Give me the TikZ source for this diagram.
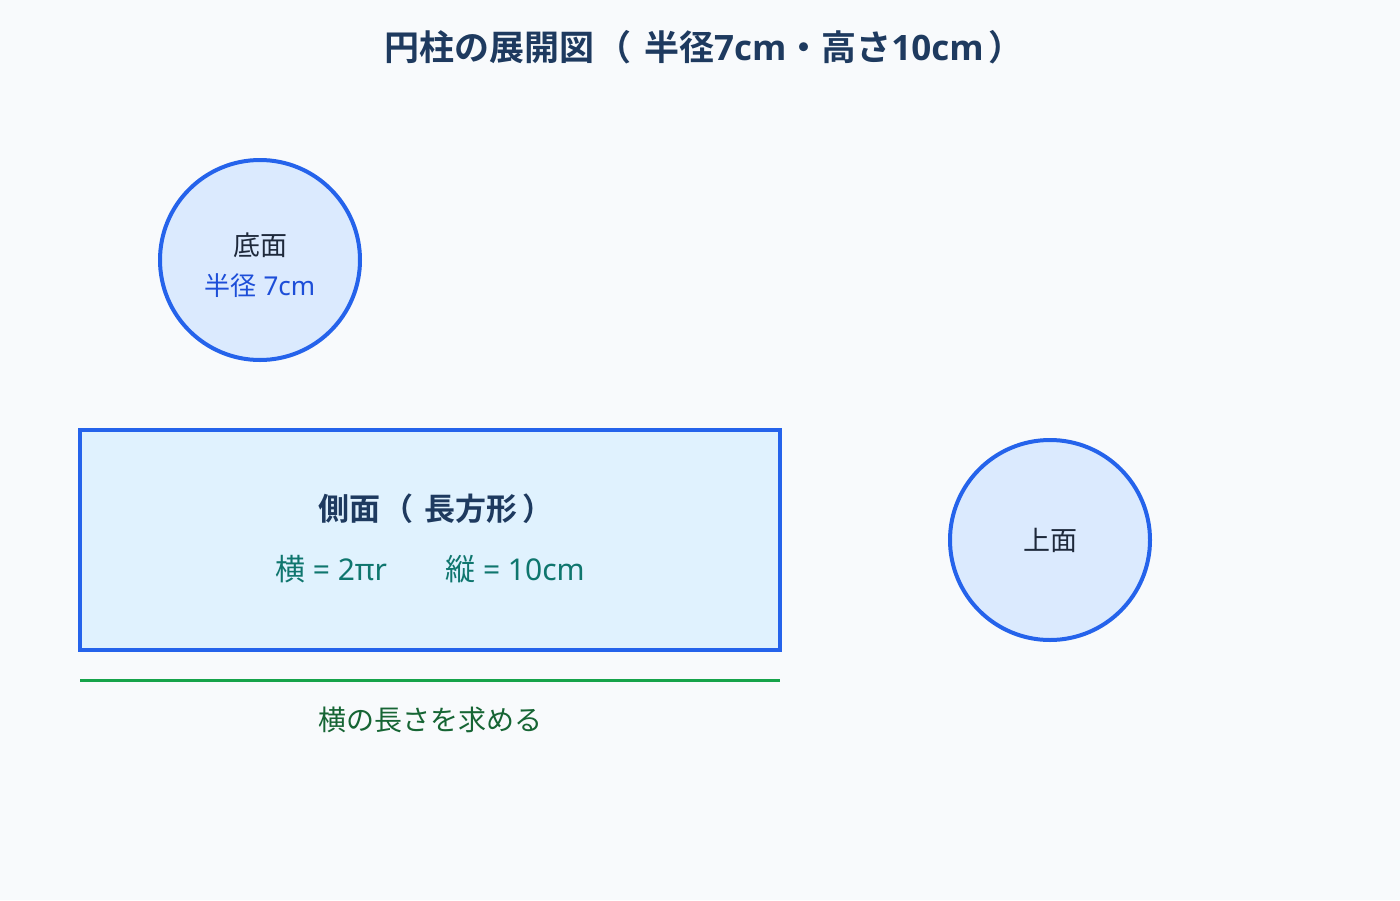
\documentclass[tikz,border=0pt]{standalone}
\usepackage{fontspec}
\setmainfont{Noto Sans CJK JP}[BoldFont={* Bold}]
\newfontfamily\lat{Noto Sans}
\newfontfamily\latb{Open Sans}[BoldFont={* Bold}]
\definecolor{bgc}{HTML}{F8FAFC}
\definecolor{blueline}{HTML}{2563EB}
\definecolor{circfill}{HTML}{DBEAFE}
\definecolor{rectfill}{HTML}{E0F2FE}
\definecolor{titlec}{HTML}{1E3A5F}
\definecolor{darktext}{HTML}{1E293B}
\definecolor{bluetext}{HTML}{1D4ED8}
\definecolor{tealtext}{HTML}{0F766E}
\definecolor{greenline}{HTML}{16A34A}
\definecolor{greentext}{HTML}{166534}
\newcommand\lp{\hspace{0.08em}（\hspace{0.35em}}
\newcommand\rp{\hspace{0.15em}）}
\begin{document}
\begin{tikzpicture}[x=1pt,y=-1pt,
  face/.style={circle,draw=blueline,line width=4pt,fill=circfill,minimum size=200pt,inner sep=0pt},
  side/.style={draw=blueline,line width=4pt,fill=rectfill},
  lbl/.style={inner sep=0pt,anchor=base}]
\useasboundingbox[fill=bgc] (0,0) rectangle (1400,900);
\node[lbl,text=titlec,font=\fontsize{35}{40}\selectfont\bfseries] (title) at (704,60) {円柱の展開図\lp 半径{\latb\bfseries 7cm}・高さ{\latb\bfseries 10cm}\rp};
\node[face] (bottom) at (260,260) {};
\node[lbl,text=darktext,font=\fontsize{27}{32}\selectfont] (bottomlbl) at (260,255) {底面};
\node[lbl,text=bluetext,font=\fontsize{26}{32}\selectfont] (bottomr) at (260,295) {半径{\lat\ 7cm}};
\draw[side] (80,430) rectangle (780,650);
\node[lbl,text=titlec,font=\fontsize{31}{38}\selectfont\bfseries] (sidelbl) at (436,520) {側面\lp 長方形\rp};
\node[lbl,text=tealtext,font=\fontsize{30}{36}\selectfont] (yoko) at (331,580) {横{\lat\ = 2πr}};
\node[lbl,text=tealtext,font=\fontsize{30}{36}\selectfont] (tate) at (515,580) {縦{\lat\ = 10cm}};
\node[face] (top) at (1050,540) {};
\node[lbl,text=darktext,font=\fontsize{27}{32}\selectfont] (toplbl) at (1050,550) {上面};
\coordinate (gl) at (80,680);
\coordinate (gr) at (780,680);
\draw[greenline,line width=3pt] (gl) -- (gr);
\node[lbl,text=greentext,font=\fontsize{28}{32}\selectfont] (ask) at (430,730) {横の長さを求める};
\end{tikzpicture}
\end{document}
